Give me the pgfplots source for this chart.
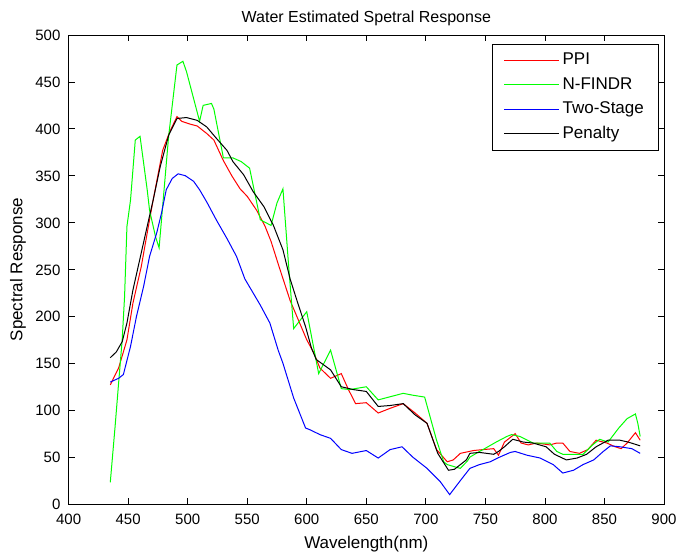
\documentclass[border=0pt]{standalone}
\usepackage{fontspec}
\setmainfont{Liberation Sans}
\usepackage{pgfplots}
\pgfplotsset{compat=1.18}
\begin{document}
\begin{tikzpicture}[x=1pt,y=1pt]
\path[use as bounding box] (-68.6,-50) rectangle (610.4,504);
\begin{axis}[
  scale only axis,
  width=595.4pt, height=469pt,
  at={(0,0)}, anchor=south west,
  xmin=400, xmax=900, ymin=0, ymax=500,
  xtick={400,450,...,900}, ytick={0,50,...,500},
  tick align=inside,
  major tick length=6pt,
  axis line style={black, line width=0.8pt},
  every tick/.style={black, line width=0.8pt},
  tick label style={font=\fontsize{15}{17}\selectfont},
  /pgf/number format/assume math mode=true,
  /pgf/number format/set thousands separator={},
  xticklabel style={inner sep=0pt, text height=11pt, text depth=0pt, yshift=-9pt},
  yticklabel style={inner sep=0pt, text height=11pt, text depth=0pt, xshift=-8pt},
  title={Water Estimated Spetral Response},
  every axis title/.style={font=\fontsize{16}{18}\selectfont, at={(axis description cs:0.5,1.036)}, anchor=center},
  xlabel={Wavelength(nm)},
  xlabel style={font=\fontsize{17}{19}\selectfont, at={(axis description cs:0.5,-0.086)}, anchor=center},
  ylabel={Spectral Response},
  ylabel style={font=\fontsize{17}{19}\selectfont, at={(axis description cs:-0.085,0.5)}, anchor=center},
  legend style={at={(axis description cs:0.99,0.981)}, anchor=north east, font=\fontsize{17}{19}\selectfont, inner xsep=11pt, inner ysep=5.5pt, row sep=3pt, nodes={inner sep=3pt, text height=12pt, text depth=3.5pt}, cells={anchor=west}},
  legend cell align=left,
  legend image code/.code={\draw[#1] (0pt,0pt) -- (55pt,0pt);},
]
\addlegendimage{draw=red, line width=1pt}
\addlegendentry{PPI}
\addlegendimage{draw=green, line width=1pt}
\addlegendentry{N-FINDR}
\addlegendimage{draw=blue, line width=1pt}
\addlegendentry{Two-Stage}
\addlegendimage{draw=black, line width=1pt}
\addlegendentry{Penalty}
\addplot[red, line width=1pt, forget plot] coordinates {
(435,127) (442,145) (449,175) (454,214) (461,253) (467,296) (471,324) (479,377) (485,397) (491,413) (495,408) (502,405) (508,403) (516,395) (522,388) (530,366) (537,350) (544,336) (550,328) (558,313) (565,296) (570,280) (577,252) (586,217) (594,193) (600,175) (606,161) (611,145) (620,134) (629,139) (635,122) (641,107) (650,108) (660,97) (670,102) (681,107) (691,97) (701,86) (709,58) (718,45) (723,47) (729,54) (740,57) (748,58) (757,59) (761,52) (766,66) (775,75) (780,65) (786,63) (793,65) (804,63) (810,65) (815,65) (821,56) (829,54) (836,58) (843,68) (852,65) (859,61) (864,59) (869,65) (876,76) (880,68)
};
\addplot[green, line width=1pt, forget plot] coordinates {
(435,23) (439,82) (442,129) (445,175) (447,221) (449,296) (452,324) (456,388) (460,392) (466,335) (468,313) (473,285) (476,273) (484,392) (491,468) (496,472) (499,461) (510,408) (513,425) (520,427) (522,421) (530,369) (538,369) (545,365) (552,358) (561,303) (570,297) (575,321) (580,336) (585,250) (589,187) (600,205) (610,139) (620,164) (629,123) (636,122) (650,125) (660,111) (681,118) (689,116) (699,114) (709,68) (715,45) (718,42) (726,39) (729,38) (735,46) (737,50) (745,56) (748,58) (759,66) (768,72) (772,74) (779,72) (790,65) (804,65) (810,56) (815,53) (832,53) (840,63) (846,69) (853,66) (862,81) (869,91) (876,96) (878,86) (880,72)
};
\addplot[blue, line width=1pt, forget plot] coordinates {
(435,130) (442,134) (446,138) (452,168) (457,200) (463,232) (468,264) (474,289) (478,310) (482,335) (487,347) (492,352) (498,350) (505,344) (510,335) (516,322) (524,303) (533,283) (541,264) (548,240) (561,212) (569,193) (576,164) (580,150) (589,113) (599,81) (603,79) (611,74) (620,70) (629,58) (638,54) (650,57) (660,49) (670,58) (680,61) (689,50) (701,38) (712,24) (720,10) (729,25) (737,38) (745,42) (754,45) (762,50) (771,55) (775,56) (785,52) (796,49) (807,42) (815,33) (824,36) (832,42) (841,47) (849,56) (855,62) (863,61) (873,59) (880,54)
};
\addplot[black, line width=1pt, forget plot] coordinates {
(435,156) (440,162) (445,173) (449,193) (454,228) (460,262) (466,296) (471,324) (477,360) (484,393) (491,411) (499,412) (508,409) (516,402) (524,390) (533,377) (538,365) (547,351) (555,333) (564,317) (572,297) (580,271) (586,240) (592,216) (599,189) (604,166) (608,154) (620,143) (629,125) (639,122) (650,120) (660,104) (670,105) (681,107) (691,95) (701,86) (710,54) (719,36) (724,37) (734,47) (737,54) (745,55) (757,53) (761,56) (766,61) (773,69) (782,66) (790,65) (801,61) (808,53) (813,50) (818,47) (827,49) (835,53) (843,61) (853,68) (863,68) (870,66) (880,62)
};
\end{axis}
\end{tikzpicture}
\end{document}
